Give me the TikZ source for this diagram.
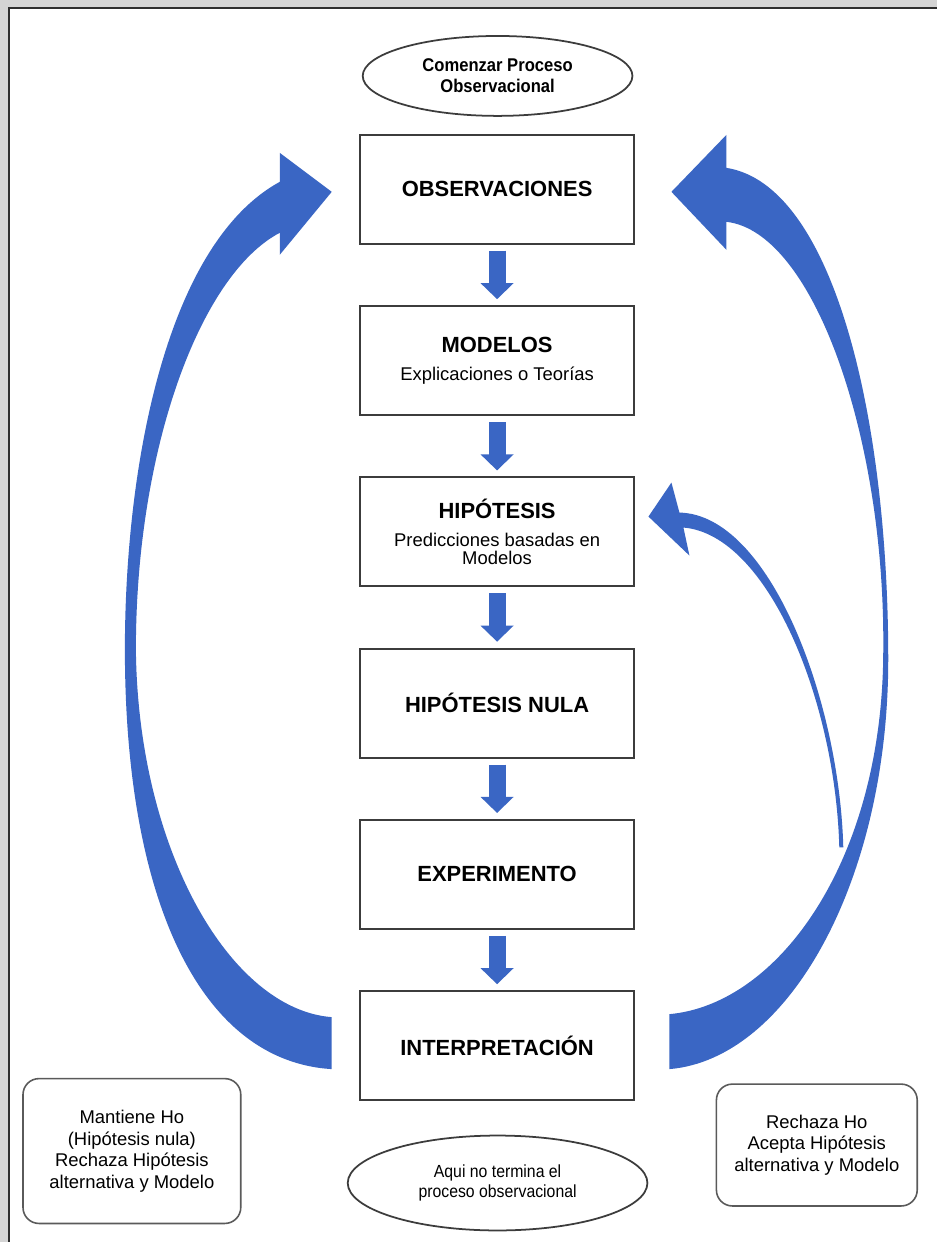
\documentclass[tikz,border=0pt]{standalone}
\usepackage{fontspec}
\setmainfont{Liberation Sans}
\newfontfamily\narrowfont[FakeStretch=0.9]{Liberation Sans}
\usepackage{tikz}
\usetikzlibrary{positioning,calc,shapes.geometric,arrows.meta}

\definecolor{arrowblue}{RGB}{58,102,196}
\definecolor{framegrey}{RGB}{212,212,212}
\definecolor{framedark}{RGB}{45,45,45}
\definecolor{boxline}{RGB}{60,60,60}
\definecolor{noteline}{RGB}{90,90,90}

\newcommand{\titbox}[1]{{\fontsize{12.5}{12.5}\selectfont\bfseries #1}}

\begin{document}
\begin{tikzpicture}[
    x=0.02cm, y=-0.02cm,
    node distance=1.21cm,
    box/.style={rectangle, draw=boxline, line width=1.1pt, fill=white, minimum width=5.5cm, minimum height=2.18cm, inner sep=0pt, align=center, font=\fontsize{10.5}{10}\selectfont},
    ovalbox/.style={ellipse, draw=boxline, line width=1pt, fill=white, inner sep=0pt, align=center},
    notebox/.style={rectangle, draw=noteline, line width=0.9pt, rounded corners=0.32cm, fill=white, inner sep=0pt, align=center, font=\fontsize{10.5}{12.3}\selectfont},
    flecha/.style={draw=arrowblue, line width=0.34cm, -{Triangle[width=0.64cm,length=0.32cm]}},
    curva/.style={fill=arrowblue}
]
    % Marco
    \fill[framegrey] (0,0) rectangle (938,1243);
    \fill[white] (9,8) rectangle (938,1243);
    \draw[framedark, line width=1.2pt] (9,1243) -- (9,8) -- (938,8);
    \useasboundingbox (0,0) rectangle (938,1243);

    % Inicio
    \node[ovalbox, minimum width=5.4cm, minimum height=1.6cm, font=\narrowfont\fontsize{10.5}{12}\selectfont\bfseries] (inicio) at (498,76) {Comenzar Proceso\\Observacional};

    % Pasos del proceso
    \node[box] (obs) at (497.5,189.5) {\titbox{OBSERVACIONES}};
    \node[box, below=of obs] (mod) {\titbox{MODELOS}\\[6pt]Explicaciones o Teorías};
    \node[box, below=of mod] (hip) {\titbox{HIPÓTESIS}\\[6pt]Predicciones basadas en\\Modelos};
    \node[box, below=of hip] (nula) {\titbox{HIPÓTESIS NULA}};
    \node[box, below=of nula] (exp) {\titbox{EXPERIMENTO}};
    \node[box, below=of exp] (interp) {\titbox{INTERPRETACIÓN}};

    % Resultados
    \node[notebox, minimum width=4.36cm, minimum height=2.9cm] (mantiene) at (132,1152) {Mantiene Ho\\(Hipótesis nula)\\Rechaza Hipótesis\\alternativa y Modelo};
    \node[notebox, minimum width=4.02cm, minimum height=2.44cm] (rechaza) at (817.5,1146) {Rechaza Ho\\Acepta Hipótesis\\alternativa y Modelo};
    \node[ovalbox, minimum width=6cm, minimum height=1.9cm, font=\narrowfont\fontsize{10}{11}\selectfont] (fin) at (498,1184) {Aqui no termina el\\proceso observacional};

    % Flechas entre pasos
    \draw[flecha] ($(obs.south)+(0,6)$) -- ($(mod.north)+(0,-6)$);
    \draw[flecha] ($(mod.south)+(0,6)$) -- ($(hip.north)+(0,-6)$);
    \draw[flecha] ($(hip.south)+(0,6)$) -- ($(nula.north)+(0,-6)$);
    \draw[flecha] ($(nula.south)+(0,6)$) -- ($(exp.north)+(0,-6)$);
    \draw[flecha] ($(exp.south)+(0,6)$) -- ($(interp.north)+(0,-6)$);

    % Flecha curva izquierda: interpretacion -> observaciones
    \fill[curva] (332,1070) .. controls (200,1062) and (125,900) .. (125,650)
        .. controls (125,470) and (165,245) .. (280,182)
        -- (280,153) -- (332,192) -- (280,255) -- (280,233)
        .. controls (200,275) and (136,450) .. (136,650)
        .. controls (138,850) and (230,1010) .. (332,1018)
        -- cycle;

    % Flecha curva derecha: interpretacion -> observaciones
    \fill[curva] (670,1070) .. controls (790,1060) and (889,880) .. (889,660)
        .. controls (889,420) and (835,185) .. (727,168)
        -- (727,135) -- (672,192) -- (727,250) -- (727,222)
        .. controls (815,232) and (886,440) .. (884,650)
        .. controls (884,860) and (780,1005) .. (670,1015)
        -- cycle;

    % Flecha delgada: rechaza Ho -> hipotesis
    \fill[curva] (844,848) .. controls (840,700) and (770,515) .. (680,513)
        -- (672,483) -- (649,517) -- (690,556) -- (684,528)
        .. controls (768,535) and (836,700) .. (840,848)
        -- cycle;
\end{tikzpicture}
\end{document}
